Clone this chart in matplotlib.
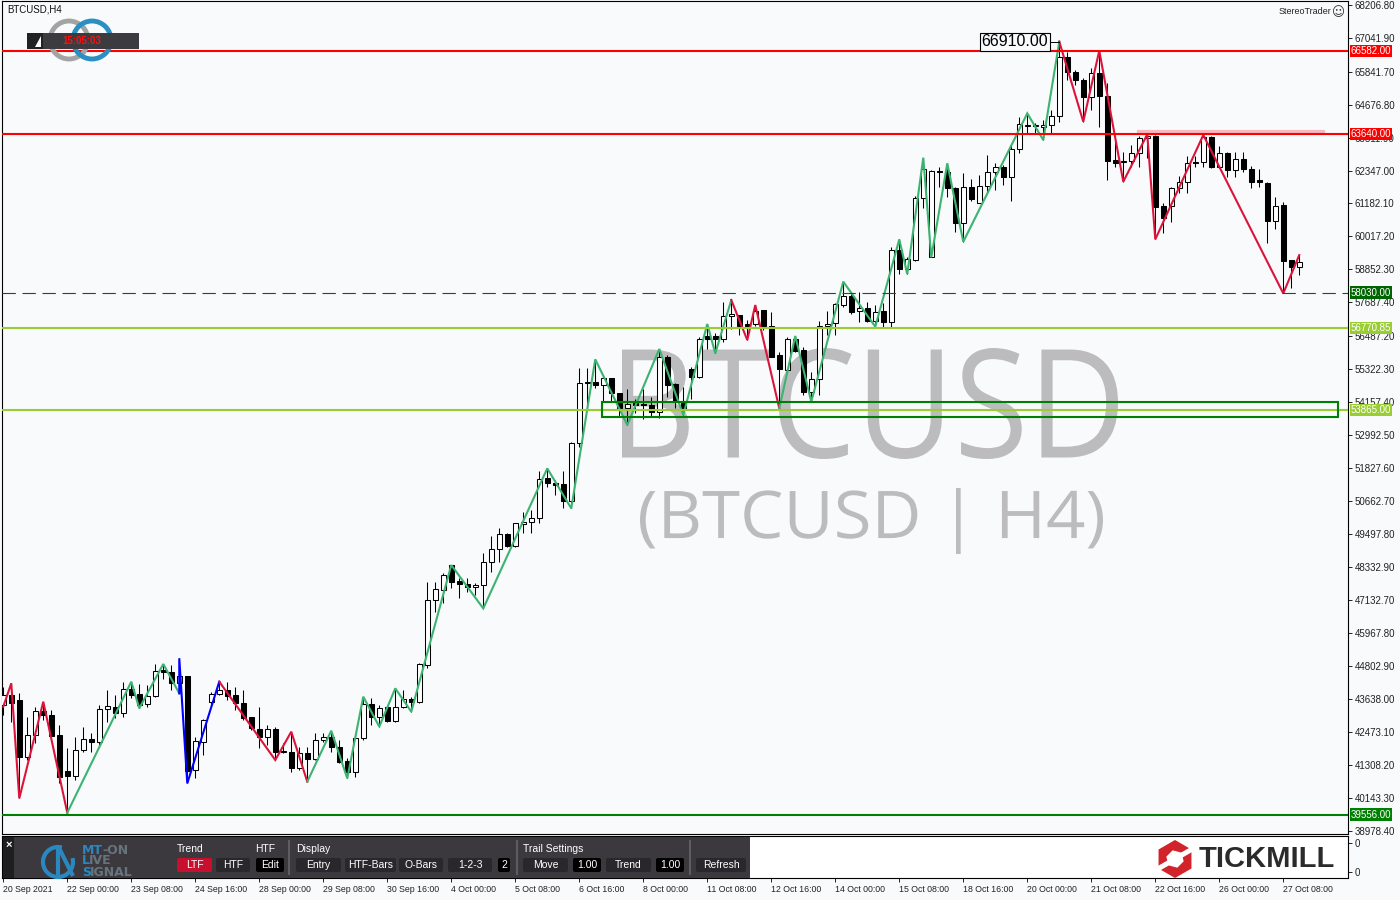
# Import section
import numpy as np
import matplotlib
matplotlib.use('Agg')
import matplotlib.pyplot as plt
from matplotlib.patches import Rectangle, Circle, Arc, PathPatch, FancyBboxPatch, Polygon, RegularPolygon
from matplotlib.textpath import TextPath
from matplotlib.font_manager import FontProperties
from matplotlib.transforms import Affine2D

plt.rcParams['font.family'] = ['Liberation Sans', 'DejaVu Sans']

# Data section (BTCUSD H4 bars)
opens = [43433, 43787, 43610, 41580, 42371, 43221, 43079, 42371, 41097, 40931,
         41840, 42229, 42111, 43291, 43374, 43138, 43999, 43822, 43468, 43752,
         44672, 44601, 44200, 44460, 41132, 42135, 43527, 43822, 43964, 43787,
         43504, 42996, 42572, 42288, 42583, 41805, 41757, 41191, 41722, 41510,
         42194, 42288, 41958, 41462, 41049, 42253, 43468, 42996, 43350, 42878,
         43350, 43634, 43551, 44845, 47146, 47500, 48385, 47819, 47713, 47594,
         47677, 48503, 48940, 49471, 49070, 49836, 49919, 50037, 51453, 51276,
         51240, 50650, 52692, 54852, 54875, 54757, 54993, 54462, 53931, 54108,
         54073, 54049, 53789, 55737, 54792, 54202, 55323, 55052, 56492, 56492,
         56374, 57200, 57235, 56905, 56917, 57412, 56846, 55819, 55288, 56374,
         55996, 54521, 54958, 56846, 56940, 57589, 57908, 57377, 57471, 57035,
         57388, 56975, 59534, 58850, 59180, 61363, 59298, 62343, 62307, 61717,
         60501, 61752, 61210, 61800, 62307, 62460, 62130, 63098, 63935, 63935,
         63900, 63958, 64290, 66354, 65847, 65552, 64962, 65788, 64986, 62720,
         62637, 62696, 62956, 63487, 63570, 61092, 61092, 61717, 61953, 62637,
         62637, 63522, 62460, 62980, 62366, 62744, 62390, 62012, 61917, 60572,
         61127, 59180, 58944]
highs = [44082, 44200, 43846, 43020, 43374, 43551, 43256, 42725, 41899, 42312,
         42666, 42430, 43433, 43964, 43787, 44259, 44259, 44176, 44141, 44884,
         44884, 44849, 45085, 44460, 42312, 42926, 43905, 44259, 44259, 44082,
         43964, 43020, 43374, 42725, 42666, 42076, 42489, 41934, 41934, 42430,
         42430, 42524, 42194, 41545, 42312, 43728, 43669, 43433, 43433, 44023,
         43964, 43728, 44908, 47795, 47795, 48114, 48385, 47913, 47913, 47736,
         48822, 49412, 49683, 49506, 49884, 50273, 50332, 51713, 51807, 51394,
         51724, 52751, 55347, 55347, 55666, 55111, 54993, 54462, 54604, 54250,
         54604, 54344, 56032, 55819, 54840, 54675, 55406, 56445, 56917, 56586,
         57707, 57766, 57235, 57058, 57589, 57412, 57353, 55937, 56445, 56492,
         56114, 55229, 57035, 57388, 57672, 58415, 58061, 58061, 57707, 57589,
         57648, 59652, 59912, 59298, 61446, 62803, 62366, 62484, 62602, 61776,
         62272, 62036, 62189, 62897, 62602, 62543, 63251, 64254, 64372, 64018,
         64136, 64490, 66910, 66555, 65906, 65611, 65965, 66590, 65458, 63428,
         63015, 63251, 63570, 63629, 63605, 61186, 61776, 62154, 62862, 62862,
         63605, 63570, 63216, 63015, 63015, 63015, 62508, 62390, 61953, 61422,
         61245, 59180, 59357]
lows = [43079, 42843, 40129, 41486, 42076, 42902, 42312, 40660, 39622, 40778,
        41781, 41781, 41958, 42843, 42961, 43020, 43669, 43315, 43374, 43728,
        44342, 43964, 43846, 40660, 40837, 41663, 43433, 43787, 43610, 43256,
        42902, 42548, 41899, 42017, 41486, 41722, 41073, 41132, 40719, 41486,
        42135, 41781, 41368, 40837, 40896, 42194, 42725, 42666, 42843, 42843,
        43315, 43197, 43492, 44727, 46733, 47028, 47559, 47205, 47441, 47323,
        46851, 48149, 48503, 49010, 49034, 49530, 49530, 49884, 51134, 50863,
        50391, 50391, 52574, 53990, 54639, 54167, 54167, 53636, 53341, 53754,
        53542, 53636, 53577, 54344, 53931, 53695, 54261, 54993, 56032, 55878,
        56291, 56740, 56527, 56350, 56846, 56700, 55737, 53931, 55229, 55937,
        54403, 54167, 54403, 56527, 56527, 57530, 57271, 56999, 56999, 56822,
        56822, 56822, 58684, 58684, 59156, 61009, 59274, 61776, 61422, 60183,
        59829, 61280, 61186, 61564, 61658, 61835, 61280, 62956, 63664, 63664,
        63428, 63629, 64077, 65552, 65375, 64077, 64490, 63900, 62012, 62484,
        61953, 62484, 62484, 62779, 59912, 60124, 60537, 61540, 61540, 62484,
        62484, 62425, 62425, 62130, 62130, 62307, 61717, 61776, 59770, 60277,
        58000, 58177, 58649]
closes = [43787, 43492, 41580, 42371, 43221, 43079, 42347, 40896, 40931, 41840,
          42229, 42111, 43291, 43398, 43138, 43988, 43787, 43433, 43752, 44625,
          44589, 44200, 44460, 41108, 42159, 42902, 43822, 43964, 43763, 43492,
          42985, 42607, 42288, 42572, 41781, 41757, 41191, 41722, 41510, 42194,
          42288, 41958, 41427, 41049, 42253, 43468, 42996, 43339, 42878, 43350,
          43634, 43551, 44884, 47146, 47524, 48031, 47795, 47701, 47594, 47677,
          48503, 48940, 49471, 49058, 49860, 49919, 50037, 51418, 51276, 51229,
          50650, 52692, 54816, 54816, 54757, 54993, 54462, 53931, 54073, 54061,
          54037, 53789, 55737, 54757, 54167, 53896, 55052, 56374, 56374, 56374,
          57200, 57271, 56846, 56846, 57388, 56846, 55760, 55323, 56374, 55972,
          54521, 54958, 56846, 56905, 57624, 57908, 57353, 57471, 57035, 57353,
          56975, 59534, 58850, 59204, 61363, 62390, 62343, 62284, 61717, 60501,
          61752, 61328, 61800, 62307, 62460, 62130, 63098, 64000, 63958, 63958,
          63958, 64290, 66354, 65847, 65552, 64962, 65788, 64986, 62696, 62602,
          62696, 62956, 63487, 63570, 61068, 60655, 61717, 61953, 62602, 62602,
          63522, 62460, 62980, 62366, 62744, 62390, 61953, 61953, 60572, 61103,
          59156, 58920, 59097]

# zigzag legs: (bar, price) turning points
zz_red_1 = [(0, 43374), (1, 44200), (2, 40129), (5, 43551), (8, 39622)]
zz_green_1 = [(8, 39622), (16, 44259), (17, 43315), (20, 44884), (22, 43846)]
zz_blue = [(22, 43846), (22, 45085), (23, 40660), (27, 44259)]
zz_red_2 = [(27, 44259), (34, 41486), (36, 42489), (38, 40719)]
zz_green_2 = [(38, 40719), (41, 42524), (43, 40837), (45, 43728), (47, 42666),
              (49, 44023), (51, 43197), (56, 48385), (60, 46851), (68, 51807),
              (71, 50391), (74, 55666), (78, 53341), (82, 56032), (85, 53695),
              (88, 56917), (89, 55878), (91, 57766)]
zz_red_3 = [(91, 57766), (93, 56350), (94, 57589), (97, 53931)]
zz_green_3 = [(97, 53931), (99, 56492), (101, 54167), (105, 58415), (109, 56822),
              (112, 59912), (113, 58684), (115, 62803), (116, 59274), (118, 62602),
              (120, 59829), (128, 64372), (130, 63428), (132, 66910)]
zz_red_4 = [(132, 66910), (135, 64077), (137, 66590), (140, 61953), (143, 63629),
            (144, 59912), (150, 63605), (160, 58000), (162, 59357)]

# horizontal levels
resistance_levels = [66582.00, 63640.00]
support_dashed = 58030.00
zone_levels = [56770.85, 53865.00]
bottom_level = 39556.00
pink_level = 63712
pink_bars = (142, 165)
zone_box = (74.9, 166.8, 53636, 54167)   # bar from, bar to, low, high

price_ticks = [68206.80, 67041.90, 65841.70, 64676.80, 63511.90, 62347.00,
               61182.10, 60017.20, 58852.30, 57687.40, 56487.20, 55322.30,
               54157.40, 52992.50, 51827.60, 50662.70, 49497.80, 48332.90,
               47132.70, 45967.80, 44802.90, 43638.00, 42473.10, 41308.20,
               40143.30, 38978.40]

time_bars = list(range(0, 161, 8))
time_labels = ['20 Sep 2021', '22 Sep 00:00', '23 Sep 08:00', '24 Sep 16:00',
               '28 Sep 00:00', '29 Sep 08:00', '30 Sep 16:00', '4 Oct 00:00',
               '5 Oct 08:00', '6 Oct 16:00', '8 Oct 00:00', '11 Oct 08:00',
               '12 Oct 16:00', '14 Oct 00:00', '15 Oct 08:00', '18 Oct 16:00',
               '20 Oct 00:00', '21 Oct 08:00', '22 Oct 16:00', '26 Oct 00:00',
               '27 Oct 08:00']

BG = '#f8fafc'
GREEN_ZZ = '#3cb371'
RED_ZZ = '#dc143c'


def add_watermark(ax, text, box, color):
    # text path stretched into a pixel box (x0, y0, x1, y1), y measured from bottom
    tp = TextPath((0, 0), text, size=100, prop=FontProperties(family='Open Sans'))
    ext = tp.get_extents()
    x0, y0, x1, y1 = box
    tr = Affine2D().translate(-ext.x0, -ext.y0).scale((x1 - x0) / ext.width,
                                                      (y1 - y0) / ext.height).translate(x0, y0)
    ax.add_patch(PathPatch(tp, transform=tr, fc=color, ec='none', zorder=0.5))


def draw_candles(ax):
    o = np.array(opens, float)
    h = np.array(highs, float)
    l = np.array(lows, float)
    c = np.array(closes, float)
    x = np.arange(len(o))
    up = c >= o
    ax.vlines(x, l, h, color='black', lw=0.75, zorder=3)
    bottom = np.minimum(o, c)
    height = np.maximum(np.abs(c - o), 30)
    ax.bar(x, height, bottom=bottom, width=0.66,
           color=np.where(up, 'white', 'black'), edgecolor='black',
           linewidth=0.75, zorder=4)


def draw_zigzag(ax):
    legs = [(zz_red_1, RED_ZZ), (zz_green_1, GREEN_ZZ), (zz_blue, '#0000ff'),
            (zz_red_2, RED_ZZ), (zz_green_2, GREEN_ZZ), (zz_red_3, RED_ZZ),
            (zz_green_3, GREEN_ZZ), (zz_red_4, RED_ZZ)]
    for pts, col in legs:
        xs = [p[0] for p in pts]
        ys = [p[1] for p in pts]
        ax.plot(xs, ys, color=col, lw=1.5, zorder=5, solid_joinstyle='miter')


def level_label(ax, price, color):
    ax.text(1.002, price, f'{price:.2f}', transform=ax.get_yaxis_transform(),
            ha='left', va='center', fontsize=7, color='white', clip_on=False,
            bbox=dict(boxstyle='square,pad=0.12', fc=color, ec='none'), zorder=20)


def draw_panel(ov):
    ov.add_patch(Rectangle((3, 837), 747, 41, fc='#3b393d', ec='none'))
    ov.add_patch(Rectangle((3, 837), 11, 41, fc='#1e1e20', ec='none'))
    ov.text(8.5, 845, '×', color='white', fontsize=8, fontweight='bold',
            ha='center', va='center')
    # MT-ON logo
    blue = '#2b87c0'
    ov.add_patch(Arc((58, 862), 30, 30, theta1=345, theta2=285, color=blue, lw=3))
    ov.plot([58, 58], [849, 876], color=blue, lw=3, solid_capstyle='butt')
    ov.plot([59, 73], [848, 876], color=blue, lw=3, solid_capstyle='butt')
    for first, rest, yy in [('MT', '-ON', 850), ('L', 'IVE', 861), ('S', 'IGNAL', 872)]:
        t = ov.text(82, yy, first, color=blue, fontsize=9, fontweight='bold',
                    family='DejaVu Sans', ha='left', va='center')
        ov.annotate(rest, xy=(1, 0.5), xycoords=t, xytext=(-0.8, 0),
                    textcoords='offset points', color='#67737d', fontsize=9,
                    fontweight='bold', family='DejaVu Sans', ha='left', va='center')
    for txt, xx in [('Trend', 177), ('HTF', 255), ('Display', 296), ('Trail Settings', 523)]:
        ov.text(xx, 849, txt, color='white', fontsize=7.5, ha='left', va='center')
    buttons = [(177, 212, 'LTF', '#c8102e'), (216, 250, 'HTF', '#29272b'),
               (256, 284, 'Edit', '#000000'), (296, 341, 'Entry', '#29272b'),
               (345, 396, 'HTF-Bars', '#29272b'), (399, 443, 'O-Bars', '#29272b'),
               (448, 492, '1-2-3', '#29272b'), (498, 510, '2', '#000000'),
               (523, 568, 'Move', '#29272b'), (573, 601, '1.00', '#000000'),
               (606, 651, 'Trend', '#29272b'), (656, 684, '1.00', '#000000'),
               (696, 746, 'Refresh', '#29272b')]
    for x0, x1, txt, col in buttons:
        ov.add_patch(FancyBboxPatch((x0, 858), x1 - x0, 14,
                                    boxstyle='round,pad=0,rounding_size=2',
                                    fc=col, ec='none'))
        ov.text((x0 + x1) / 2, 865.5, txt, color='white', fontsize=7.5,
                ha='center', va='center')
    for xx in [289, 517, 690]:
        ov.plot([xx, xx], [841, 874], color='#5e5c60', lw=1.5)

    # TICKMILL logo
    cx, cy = 1175, 859
    ov.add_patch(RegularPolygon((cx, cy), 6, radius=19, orientation=0, fc='#d2232a', ec='none'))
    ov.add_patch(RegularPolygon((cx, cy), 6, radius=9, orientation=np.pi / 4, fc='white', ec='none'))
    for ang in [30, 210]:
        a = np.radians(ang)
        d = np.array([np.cos(a), -np.sin(a)])
        n = np.array([-d[1], d[0]])
        p = [np.array([cx, cy]) + d * r + n * s for r, s in [(6, -2.5), (22, -2.5), (22, 2.5), (6, 2.5)]]
        ov.add_patch(Polygon(p, closed=True, fc='white', ec='none'))
    ov.text(1199, 859, 'TICKMILL', fontsize=21, fontweight='bold', color='#2b2b2b',
            ha='left', va='center')


def main():
    fig = plt.figure(figsize=(14, 9), dpi=100, facecolor=BG)
    W, H = 1400.0, 900.0
    ax = fig.add_axes([2 / W, 1 - 834 / H, 1346 / W, 833 / H], facecolor=BG)

    add_watermark(ax, 'BTCUSD', (622, 441, 1118, 552), '#bcbcbe')
    add_watermark(ax, '(BTCUSD | H4)', (640, 346, 1103, 412), '#bcbcbe')

    for p in resistance_levels:
        ax.axhline(p, color='#ff0000', lw=1.5, zorder=6)
    ax.axhline(support_dashed, color='#006400', lw=0.8, ls=(0, (12, 6)), zorder=6)
    for p in zone_levels:
        ax.axhline(p, color='#9acd32', lw=1.5, zorder=6)
    ax.axhline(bottom_level, color='#008000', lw=1.5, zorder=6)
    ax.plot(pink_bars, [pink_level, pink_level], color='#f7b6c0', lw=3, zorder=2)

    draw_candles(ax)
    draw_zigzag(ax)

    bx0, bx1, blo, bhi = zone_box
    ax.add_patch(Rectangle((bx0, blo), bx1 - bx0, bhi - blo, fill=False,
                           ec='#008000', lw=1.5, zorder=7))

    # highest high label
    peak_bar = int(np.argmax(highs))
    peak = highs[peak_bar]
    ax.plot([peak_bar - 1.4, peak_bar], [peak, peak], color='black', lw=0.7, zorder=8)
    ax.text(peak_bar - 1.4, peak, f'{peak:.2f}', ha='right', va='center', fontsize=11.5,
            bbox=dict(boxstyle='square,pad=0.1', fc=BG, ec='black', lw=0.8), zorder=9)

    ax.set_xlim(-0.16, 168.09)
    ax.set_ylim(38868, 68348)
    ax.set_xticks([])
    ax.yaxis.tick_right()
    ax.set_yticks(price_ticks)
    ax.set_yticklabels([f'{v:.2f}' for v in price_ticks])
    ax.tick_params(axis='y', direction='out', length=3, width=0.7, pad=2,
                   labelsize=7, colors='#222222')
    for s in ax.spines.values():
        s.set_linewidth(0.8)

    for p in resistance_levels:
        level_label(ax, p, '#ff0000')
    level_label(ax, support_dashed, '#006400')
    for p in zone_levels:
        level_label(ax, p, '#9acd32')
    level_label(ax, bottom_level, '#008000')

    # indicator sub window with the time axis
    sax = fig.add_axes([2 / W, 1 - 878 / H, 1346 / W, 42 / H], facecolor='white')
    sax.set_xlim(-0.16, 168.09)
    sax.set_ylim(0, 1)
    sax.set_xticks(time_bars)
    sax.set_xticklabels(time_labels, ha='left')
    sax.yaxis.tick_right()
    sax.set_yticks([0.14, 0.83])
    sax.set_yticklabels(['0', '0'])
    sax.tick_params(axis='both', direction='out', length=3, width=0.7, pad=2,
                    colors='#222222')
    sax.tick_params(axis='x', labelsize=6.3)
    sax.tick_params(axis='y', labelsize=7)
    for s in sax.spines.values():
        s.set_linewidth(0.8)

    # overlay in pixel units for the terminal decorations
    ov = fig.add_axes([0, 0, 1, 1], zorder=10)
    ov.set_xlim(0, W)
    ov.set_ylim(H, 0)
    ov.axis('off')
    ov.patch.set_alpha(0)

    ov.text(7, 10, 'BTCUSD,H4', fontsize=7, color='#111111', ha='left', va='center')
    ov.add_patch(Circle((69, 40), 19, fill=False, ec='#a3a3a3', lw=3.5))
    ov.add_patch(Circle((92, 40), 19, fill=False, ec='#2a8fc1', lw=3.5))
    ov.add_patch(Rectangle((27, 33), 112, 16, fc='#3c3b40', ec='none'))
    ov.add_patch(Rectangle((27, 33), 16, 16, fc='#222224', ec='none'))
    ov.add_patch(Polygon([(41, 36), (41, 47), (35, 47)], closed=True, fc='white', ec='none'))
    ov.text(82, 41.5, '15:05:03', fontsize=7, fontweight='bold', color='#ff1010',
            ha='center', va='center')

    ov.text(1331, 12, 'StereoTrader', fontsize=6.5, color='#222222', ha='right', va='center')
    ov.text(1338, 13, '☺', fontsize=9, color='#333333', ha='center', va='center',
            family='DejaVu Sans')

    draw_panel(ov)

    fig.savefig('out.png', dpi=100, facecolor=BG)
    plt.close(fig)
    return None
    # End of function.


if __name__ == "__main__":
    main()

# End of file.
